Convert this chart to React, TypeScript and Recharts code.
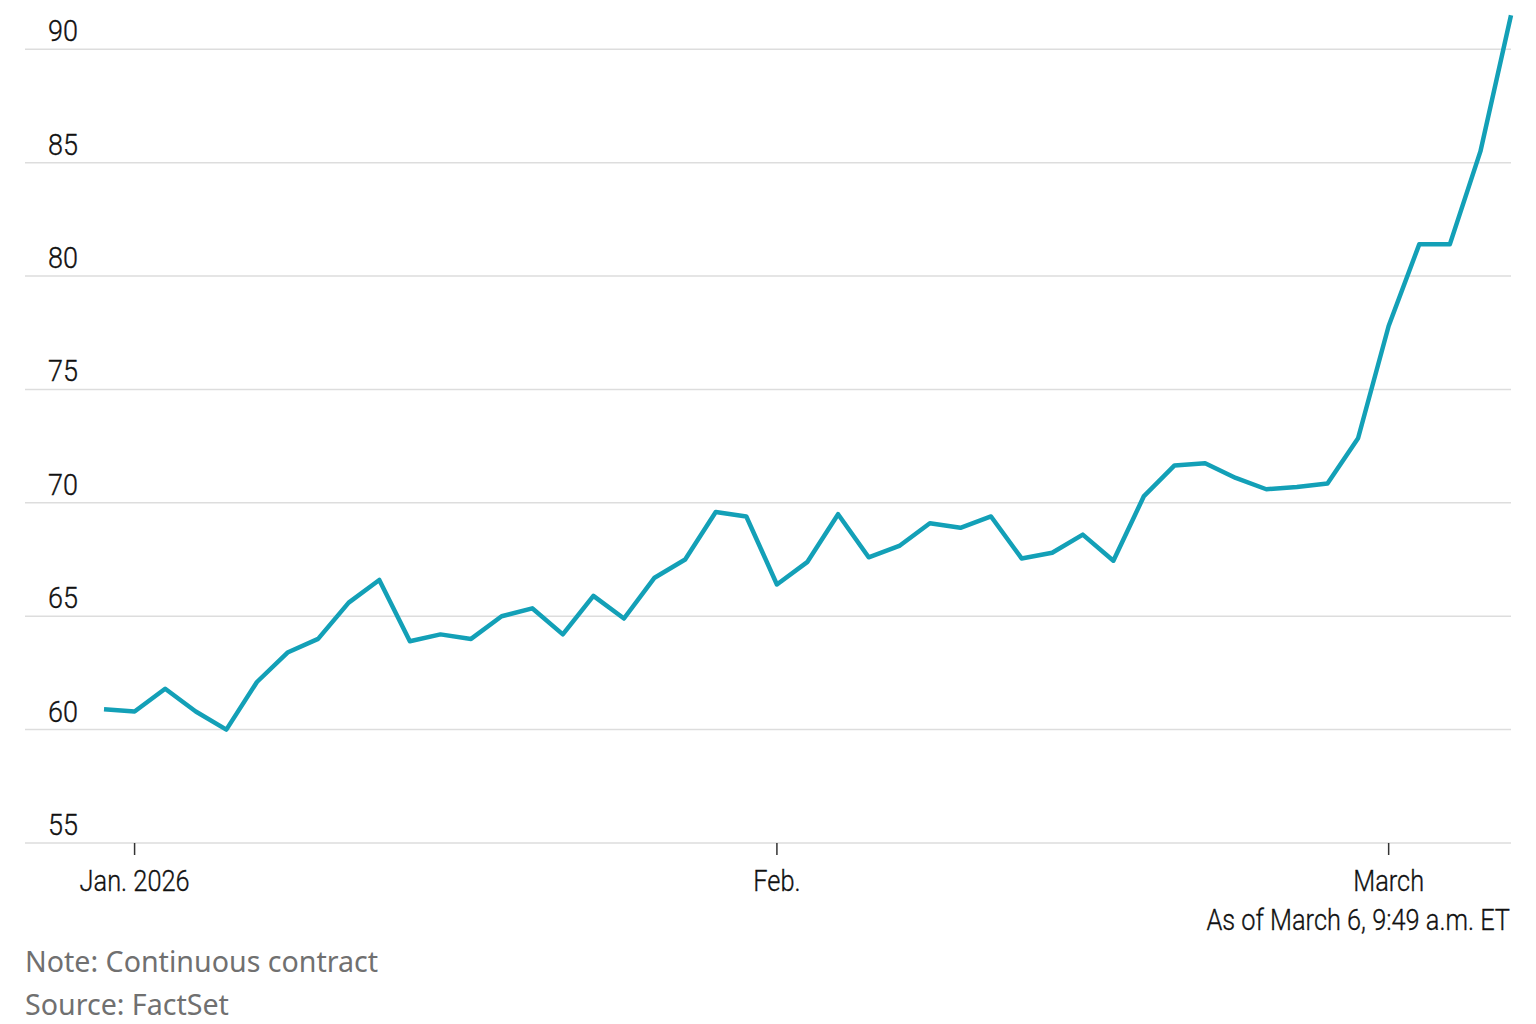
import { LineChart, Line, XAxis, YAxis, CartesianGrid } from "recharts"

// trading days, Dec. 31 through March 6
const dates = [
  "Dec 31",
  "Jan 2", "Jan 5", "Jan 6", "Jan 7", "Jan 8", "Jan 9",
  "Jan 12", "Jan 13", "Jan 14", "Jan 15", "Jan 16",
  "Jan 19", "Jan 20", "Jan 21", "Jan 22", "Jan 23",
  "Jan 26", "Jan 27", "Jan 28", "Jan 29", "Jan 30",
  "Feb 2", "Feb 3", "Feb 4", "Feb 5", "Feb 6",
  "Feb 9", "Feb 10", "Feb 11", "Feb 12", "Feb 13",
  "Feb 16", "Feb 17", "Feb 18", "Feb 19", "Feb 20",
  "Feb 23", "Feb 24", "Feb 25", "Feb 26", "Feb 27",
  "Mar 2", "Mar 3", "Mar 4", "Mar 5", "Mar 6",
]

const prices = [
  60.9,
  60.8, 61.8, 60.8, 60.0, 62.1, 63.4,
  64.0, 65.6, 66.6, 63.9, 64.2,
  64.0, 65.0, 65.35, 64.2, 65.9,
  64.9, 66.7, 67.5, 69.6, 69.4,
  66.4, 67.4, 69.5, 67.6, 68.1,
  69.1, 68.9, 69.4, 67.55, 67.8,
  68.6, 67.45, 70.3, 71.65, 71.75,
  71.1, 70.6, 70.7, 70.85, 72.85,
  77.8, 81.4, 81.4, 85.5, 91.5,
]

const xTicks = ["Jan 2", "Feb 2", "Mar 2"]
const xTickLabels = ["Jan. 2026", "Feb.", "March"]
const yTicks = [55, 60, 65, 70, 75, 80, 85, 90]

const data = dates.map((d, i) => ({ date: d, price: prices[i] }))

// narrow look: Roboto squeezed horizontally
const tickFont = "Roboto, sans-serif"
const noteFont = "'Noto Sans', 'Open Sans', sans-serif"

const NarrowText = ({ x, y, anchor, squeeze = 0.845, children }: any) => (
  <g transform={`translate(${x},${y}) scale(${squeeze},1)`}>
    <text x={0} y={0} textAnchor={anchor} fontFamily={tickFont} fontWeight={300} fontSize={30} fill="#111" stroke="#111" strokeWidth={0.35}>
      {children}
    </text>
  </g>
)

const YTick = (props: any) => {
  const { y, payload } = props
  return <NarrowText x={48} y={y - 8} anchor="start" squeeze={0.9}>{payload.value}</NarrowText>
}

const XTick = (props: any) => {
  const { x, y, payload } = props
  const label = xTickLabels[xTicks.indexOf(payload.value)]
  return <NarrowText x={x} y={y + 34} anchor="middle">{label}</NarrowText>
}

export default function App() {
  return (
    <div style={{ position: "absolute", left: 0, top: 0, width: 1536, height: 1024, background: "#fff" }}>
      <LineChart
        width={1536}
        height={900}
        data={data}
        margin={{ top: 4, right: 25, left: 24, bottom: 7 }}
      >
        <CartesianGrid vertical={false} horizontalValues={yTicks} stroke="#dddddd" strokeWidth={1.5} />
        <XAxis
          dataKey="date"
          ticks={xTicks}
          interval={0}
          height={50}
          padding={{ left: 79, right: 0 }}
          axisLine={false}
          tickLine={{ stroke: "#333", strokeWidth: 1.5 }}
          tickSize={12}
          tick={<XTick />}
        />
        <YAxis
          domain={[55, 92]}
          ticks={yTicks}
          width={1}
          axisLine={false}
          tickLine={false}
          tick={(p: any) => <YTick {...p} />}
        />
        <Line
          type="linear"
          dataKey="price"
          stroke="#13a0b7"
          strokeWidth={4.5}
          strokeLinejoin="round"
          dot={false}
          isAnimationActive={false}
        />
      </LineChart>
      <svg width={1536} height={1024} style={{ position: "absolute", left: 0, top: 0, pointerEvents: "none" }}>
        <NarrowText x={1510} y={930} anchor="end">As of March 6, 9:49 a.m. ET</NarrowText>
        <text x={25} y={972} fontFamily={noteFont} fontSize={28.6} fill="#707070">
          Note: Continuous contract
        </text>
        <text x={25} y={1015} fontFamily={noteFont} fontSize={28.6} fill="#707070">
          Source: FactSet
        </text>
      </svg>
    </div>
  )
}
